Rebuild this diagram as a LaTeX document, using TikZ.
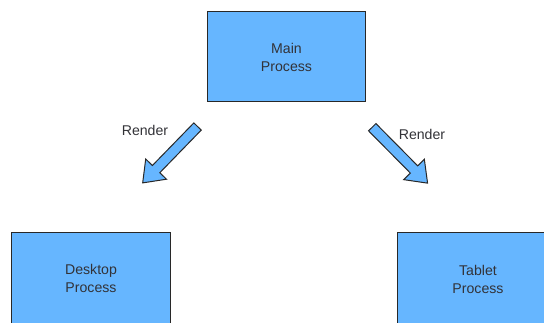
\documentclass[tikz,border=0pt]{standalone}
\usepackage{fontspec}
\setmainfont{Liberation Sans}
\usetikzlibrary{shapes.arrows,calc}

\definecolor{procblue}{RGB}{102,182,255}
\definecolor{edgegray}{RGB}{40,40,40}
\definecolor{textgray}{RGB}{50,50,55}

\tikzset{every picture/.style={line width=0.75pt}}
\tikzset{
  procbox/.style={draw=edgegray, fill=procblue, minimum width=119pt, minimum height=67.5pt,
    align=center, text=textgray, font=\fontsize{10.6}{13.5}\selectfont},
  lowbox/.style={procbox, minimum height=69pt},
  renderarrow/.style={single arrow, draw=edgegray, fill=procblue, inner sep=3.5pt,
    single arrow tip angle=74, single arrow head extend=7pt, minimum height=59pt},
  renderlabel/.style={text=textgray, font=\fontsize{10.6}{13}\selectfont}
}

\begin{document}
\begin{tikzpicture}[x=0.75pt,y=0.75pt,yscale=-1,xscale=1]
\useasboundingbox (0,0) rectangle (544,323);
\clip (0,0) rectangle (544,323);

%Shape: Rectangle [main]
\node [procbox] (main) at (286.5,57) {Main\\Process};
%Shape: Rectangle [desktop]
\node [lowbox] (desktop) at (91,278.5) {Desktop\\Process};
%Shape: Rectangle [tablet]
\node [lowbox, minimum width=121.5pt] (tablet) at (478,279) {Tablet\\Process};

%Shape: Arrow [left]
\coordinate (lefttail) at (200,124);
\coordinate (lefttip) at (145,180.5);
\node [renderarrow, rotate=225.8] (leftarrow) at ($(lefttail)!0.5!(lefttip)$) {};
%Shape: Arrow [right]
\coordinate (righttail) at (370,125);
\coordinate (righttip) at (425,180.5);
\node [renderarrow, rotate=-45.3] (rightarrow) at ($(righttail)!0.5!(righttip)$) {};

% Text Node
\node [renderlabel] (leftlabel) at (145,130) {Render};
% Text Node
\node [renderlabel] (rightlabel) at (422,134) {Render};

\end{tikzpicture}
\end{document}
